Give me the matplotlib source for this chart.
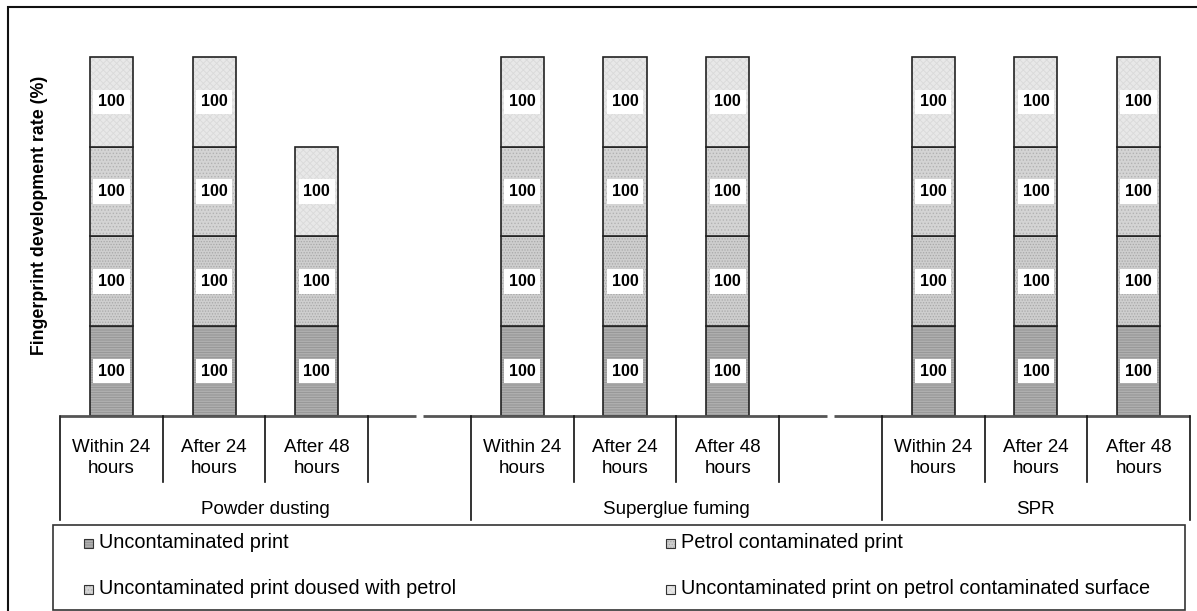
import numpy as np
import matplotlib.pyplot as plt
from matplotlib.patches import Rectangle
from matplotlib.transforms import blended_transform_factory

plt.rcParams['font.family'] = ['Liberation Sans', 'DejaVu Sans']
plt.rcParams['hatch.linewidth'] = 0.6

methods = ["Powder dusting", "Superglue fuming", "SPR"]
periods = ["Within 24\nhours", "After 24\nhours", "After 48\nhours"]
series_names = ["Uncontaminated print",
                "Petrol contaminated print",
                "Uncontaminated print doused with petrol",
                "Uncontaminated print on petrol contaminated surface"]

# development rate (%) per bar: powder x3, superglue x3, SPR x3
uncontaminated = [100, 100, 100, 100, 100, 100, 100, 100, 100]
petrol_contaminated = [100, 100, 100, 100, 100, 100, 100, 100, 100]
doused = [100, 100, 0, 100, 100, 100, 100, 100, 100]
on_surface = [100, 100, 100, 100, 100, 100, 100, 100, 100]

series = [uncontaminated, petrol_contaminated, doused, on_surface]
faces = ['#b8b8b8', '#cecece', '#d4d4d4', '#e8e8e8']
hatch_cols = ['#929292', '#a8a8a8', '#b2b2b2', '#dadada']
hatches = ['-' * 10, '.' * 6, '.' * 5, 'x' * 5]

W, H = 1197, 611


def fx(px):
    return px / W


def fy(py):
    return 1 - py / H


# 4 slots per method, the last one of each group left empty
slots_per_group = 4
xpos = np.array([g * slots_per_group + t for g in range(len(methods)) for t in range(len(periods))])
n_slots = slots_per_group * (len(methods) - 1) + len(periods)

fig = plt.figure(figsize=(W / 100, H / 100), dpi=100)
ax = fig.add_axes([fx(60), fy(416), fx(1190) - fx(60), fy(30) - fy(416)])
ax.set_xlim(-0.5, n_slots - 0.5)
ax.set_ylim(0, 430)
for s in ax.spines.values():
    s.set_visible(False)
ax.set_xticks([])
ax.set_yticks([])

bottom = np.zeros(len(xpos))
for vals, fc, hc, ht in zip(series, faces, hatch_cols, hatches):
    vals = np.array(vals, dtype=float)
    keep = vals > 0
    ax.bar(xpos[keep], vals[keep], bottom=bottom[keep], width=0.42,
           color=fc, edgecolor=hc, hatch=ht, linewidth=0)
    outl = ax.bar(xpos[keep], vals[keep], bottom=bottom[keep], width=0.42,
                  fill=False, edgecolor='#222222', linewidth=1.2)
    ax.bar_label(outl, labels=[f"{v:.0f}" for v in vals[keep]], label_type='center',
                 fontsize=11.5, fontweight='bold',
                 bbox=dict(boxstyle='square,pad=0.3', fc='white', ec='none'))
    bottom += vals

# category axis drawn as a table under the bars
trans = blended_transform_factory(ax.transData, fig.transFigure)
gaps = [g * slots_per_group + slots_per_group - 1 for g in range(len(methods) - 1)]
edges = [-0.5]
for gx in gaps:
    edges += [gx - 0.03, gx + 0.03]
edges.append(n_slots - 0.5)
for a, b in zip(edges[::2], edges[1::2]):
    ax.plot([a, b], [0, 0], color='#555555', lw=2, clip_on=False, solid_capstyle='butt')

group_edges = [-0.5] + [g * slots_per_group - 0.5 for g in range(1, len(methods))] + [n_slots - 0.5]
for gxe in group_edges:
    ax.plot([gxe, gxe], [fy(416), fy(520)], color='#111111', lw=1.2,
            transform=trans, clip_on=False)
for g in range(len(methods)):
    for t in range(len(periods)):
        x = g * slots_per_group + t
        if t < slots_per_group - 1 and x + 0.5 < n_slots - 0.5:
            ax.plot([x + 0.5, x + 0.5], [fy(416), fy(482)], color='#111111', lw=1.2,
                    transform=trans, clip_on=False)
        ax.text(x, fy(458), periods[t], transform=trans, ha='center', va='center',
                fontsize=13.5, linespacing=1.3)
    ax.text((group_edges[g] + group_edges[g + 1]) / 2, fy(510), methods[g],
            transform=trans, ha='center', va='center', fontsize=13.5)

fig.text(fx(40), fy(215), "Fingerprint development rate (%)", rotation=90,
         ha='center', va='center', fontsize=12.8, fontweight='bold')

# legend box
fig.add_artist(Rectangle((fx(53), fy(610)), fx(1185) - fx(53), fy(525) - fy(610),
                         transform=fig.transFigure, fill=False, ec='#333333', lw=1.2))
leg_pos = [(84, 543), (666, 543), (84, 589), (666, 589)]
for (px, py), name, fc, hc, ht in zip(leg_pos, series_names, faces, hatch_cols, hatches):
    fig.add_artist(Rectangle((fx(px), fy(py + 4.5)), fx(9), fy(0) - fy(9),
                             transform=fig.transFigure, fc=fc, ec=hc, hatch=ht, lw=0))
    fig.add_artist(Rectangle((fx(px), fy(py + 4.5)), fx(9), fy(0) - fy(9),
                             transform=fig.transFigure, fill=False, ec='#333333', lw=0.8))
    fig.text(fx(px + 15), fy(py), name, ha='left', va='center', fontsize=14.3)

# outer frame
fig.add_artist(Rectangle((fx(8), fy(640)), fx(1240), fy(7) - fy(640),
                         transform=fig.transFigure, fill=False, ec='#111111', lw=1.5))

fig.savefig('out.png', dpi=100)
